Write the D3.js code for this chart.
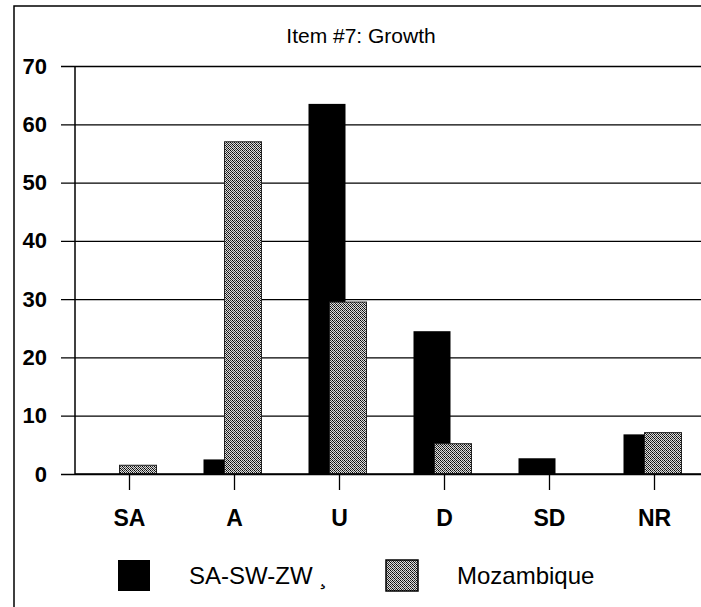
<!DOCTYPE html>
<html>
<head>
<meta charset="utf-8">
<script src="https://cdn.jsdelivr.net/npm/d3@7"></script>
<style>
  body { margin: 0; background: #fff; }
  text { font-family: Arial, "Liberation Sans", sans-serif; fill: #000; }
</style>
</head>
<body>
<svg width="701" height="607"></svg>
<script>
// Data
const categories = ["SA", "A", "U", "D", "SD", "NR"];
const seriesNames = ["SA-SW-ZW", "Mozambique"];
const sasw = [0, 2.5, 63.5, 24.5, 2.7, 6.8];
const mozambique = [1.5, 57, 29.5, 5.2, 0, 7.1];
const yTicks = [0, 10, 20, 30, 40, 50, 60, 70];

const svg = d3.select("svg"),
  width = +svg.attr("width"),
  height = +svg.attr("height");

// hatch pattern for Mozambique
const defs = svg.append("defs");
const pat = defs.append("pattern")
  .attr("id", "moz")
  .attr("patternUnits", "userSpaceOnUse")
  .attr("width", 4).attr("height", 4);
pat.append("rect").attr("width", 4).attr("height", 4).attr("fill", "#ddd");
[[0,0,"#000"],[2,0,"#333"],[1,1,"#111"],[3,1,"#444"],[0,2,"#333"],[2,2,"#000"],[3,3,"#222"],[1,3,"#666"]]
  .forEach(p => pat.append("rect").attr("x", p[0]).attr("y", p[1]).attr("width", 1).attr("height", 1).attr("fill", p[2]));

// outer frame
svg.append("path")
  .attr("d", "M14,607 L14,6 L701,6")
  .attr("fill", "none").attr("stroke", "#000").attr("stroke-width", 1.5);

const margin = { left: 75, right: 701, top: 66, bottom: 474 };

const x = d3.scaleBand()
  .domain(categories)
  .range([margin.left + 2, margin.left + 2 + 6 * 105]);

const y = d3.scaleLinear()
  .domain([0, 70])
  .range([margin.bottom, margin.top]);

// title
svg.append("text")
  .attr("x", 361).attr("y", 43)
  .attr("text-anchor", "middle")
  .style("font-size", "21px")
  .text("Item #7: Growth");

// gridlines + y labels
const yAxis = svg.append("g")
  .attr("transform", `translate(${margin.left},0)`)
  .call(d3.axisLeft(y).tickValues(yTicks).tickSize(-(margin.right - margin.left)).tickSizeOuter(0).tickPadding(28));
yAxis.select(".domain").remove();
yAxis.selectAll(".tick line")
  .attr("x1", -14)
  .attr("stroke", "#000").attr("stroke-width", 1.3);
yAxis.selectAll(".tick text")
  .style("font-size", "22px").style("font-weight", "bold")
  .style("font-family", "Arial, 'Liberation Sans', sans-serif");

// y axis line
svg.append("line")
  .attr("x1", margin.left).attr("x2", margin.left)
  .attr("y1", y(70)).attr("y2", y(0))
  .attr("stroke", "#000").attr("stroke-width", 1.5);

// bars
const barW = 37;
const black = svg.append("g");
black.selectAll("rect")
  .data(sasw)
  .enter()
  .append("rect")
  .attr("x", (d, i) => x(categories[i]) + x.bandwidth() / 2 - 31)
  .attr("y", d => y(d))
  .attr("width", barW)
  .attr("height", d => y(0) - y(d))
  .attr("fill", "#000");

const moz = svg.append("g");
moz.selectAll("rect")
  .data(mozambique.map((v, i) => ({ v, c: categories[i] })).filter(d => d.v > 0))
  .enter()
  .append("rect")
  .attr("x", d => x(d.c) + x.bandwidth() / 2 - 10)
  .attr("y", d => y(d.v))
  .attr("width", barW)
  .attr("height", d => y(0) - y(d.v))
  .attr("fill", "url(#moz)")
  .attr("stroke", "#222").attr("stroke-width", 1);

// x axis
const xAxis = svg.append("g")
  .attr("transform", `translate(0,${y(0)})`)
  .call(d3.axisBottom(x).tickSize(16).tickSizeOuter(0).tickPadding(20));
xAxis.select(".domain")
  .attr("d", `M${margin.left},0H${margin.right}`)
  .attr("stroke", "#000").attr("stroke-width", 1.5);
xAxis.selectAll(".tick line").attr("stroke", "#000").attr("stroke-width", 1.3);
xAxis.selectAll(".tick text")
  .style("font-size", "23px").style("font-weight", "bold")
  .style("font-family", "Arial, 'Liberation Sans', sans-serif");

// legend
const legend = svg.append("g");
const legendX = [118, 386];
const legendFill = ["#000", "url(#moz)"];
seriesNames.forEach((name, i) => {
  legend.append("rect")
    .attr("x", legendX[i]).attr("y", 560)
    .attr("width", 32).attr("height", 31)
    .attr("fill", legendFill[i])
    .attr("stroke", "#000").attr("stroke-width", i ? 1.5 : 0);
  legend.append("text")
    .attr("x", legendX[i] + 71).attr("y", 584)
    .style("font-size", "24px")
    .text(i ? name : name + " \u00b8");
});
</script>
</body>
</html>
